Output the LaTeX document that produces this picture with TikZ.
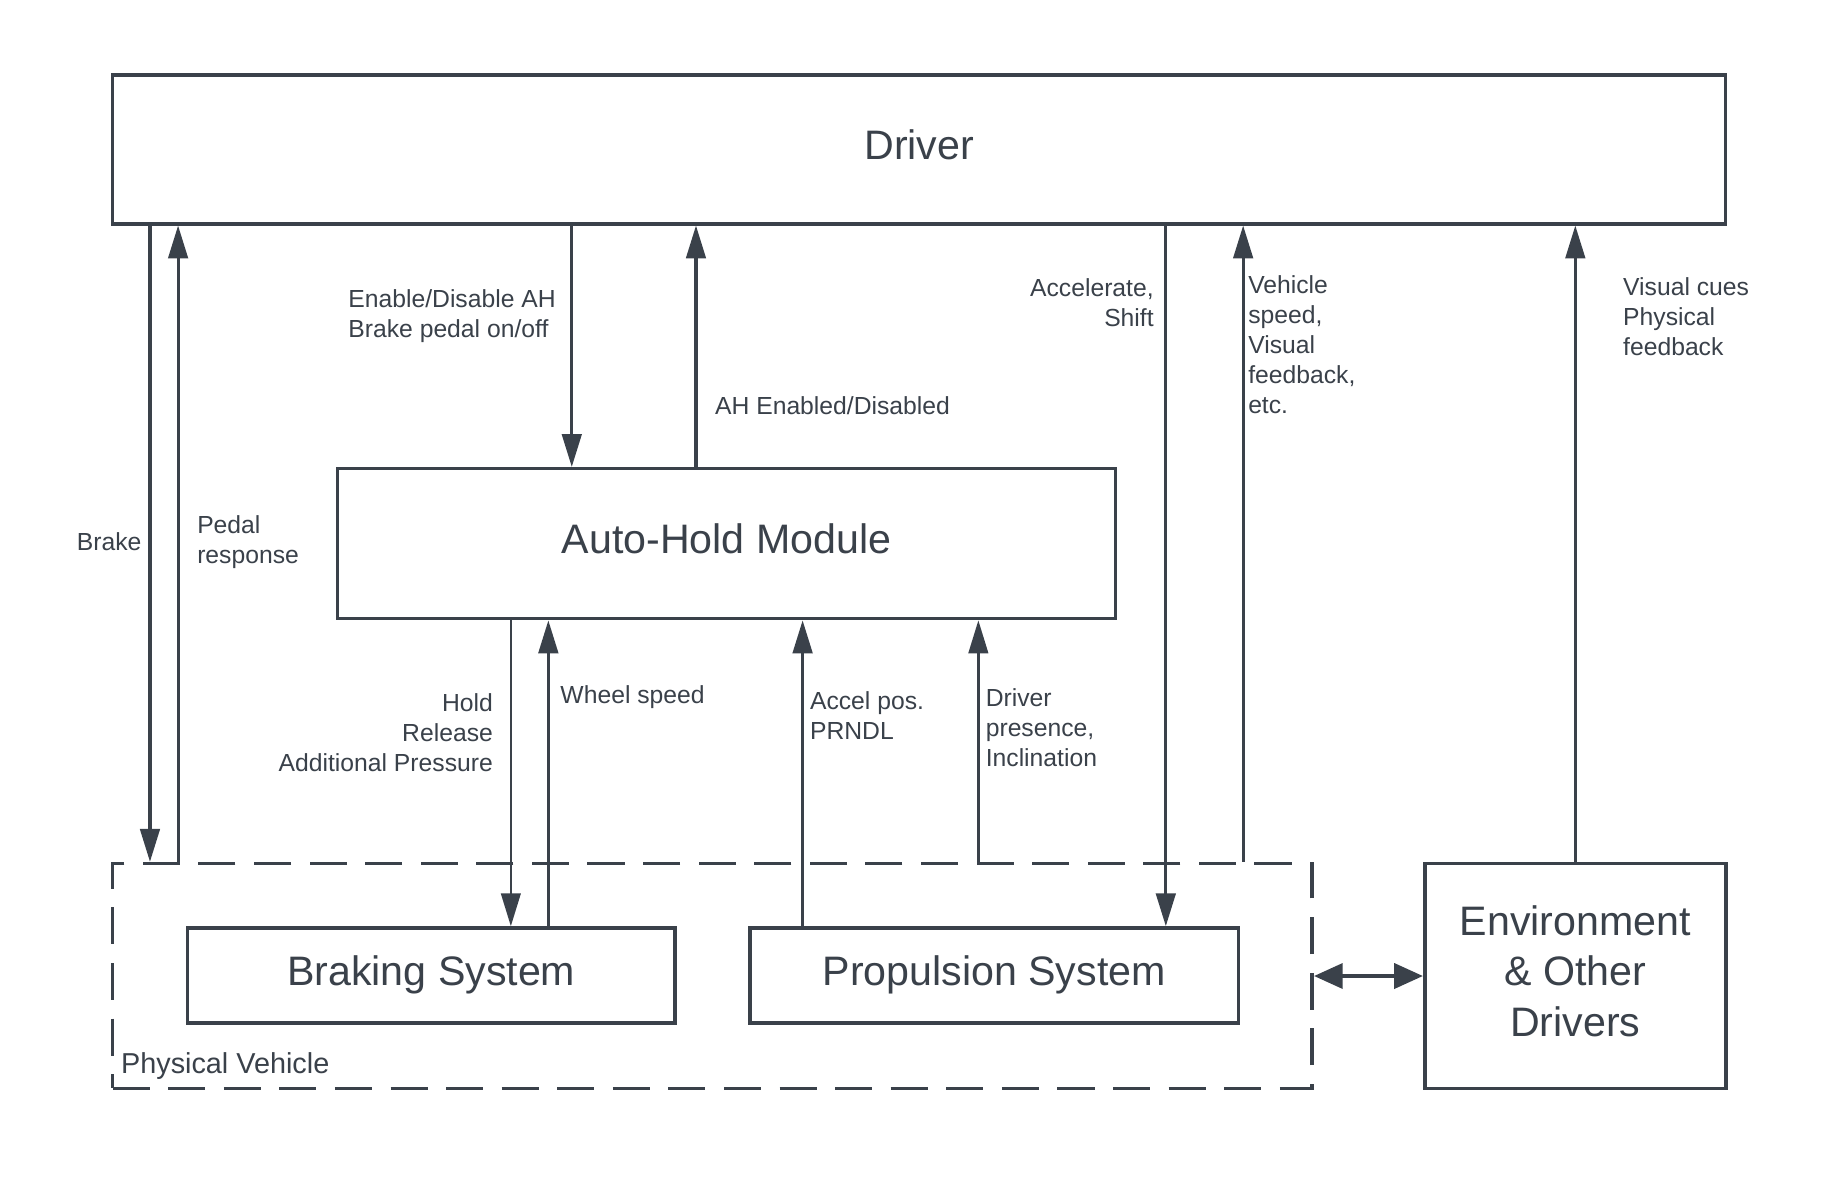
\documentclass[tikz,border=0pt]{standalone}
\usepackage{fontspec}
\setmainfont{Liberation Sans}
\usetikzlibrary{arrows.meta}
\definecolor{dk}{HTML}{3A414A}
\begin{document}
\begin{tikzpicture}[x=0.02cm,y=-0.02cm,
  box/.style={draw=dk, line width=1.7pt, inner sep=0pt, align=center, text=dk,
    text depth=5pt, font=\fontsize{20}{24.4}\selectfont},
  lbl/.style={inner sep=0pt, text=dk, font=\fontsize{12}{14.6}\selectfont},
  arr/.style={draw=dk, line width=1.5pt, -{Triangle[length=16pt,width=9.5pt]}},
  thinarr/.style={arr, line width=1.2pt},
  dbl/.style={draw=dk, line width=2.2pt, {Triangle[length=14pt,width=12pt]}-{Triangle[length=14pt,width=12pt]}}
]
\useasboundingbox[fill=white] (0,0) rectangle (1567,1024);

% boxes
\node[box, minimum width=27.54cm, minimum height=2.54cm] (driver) at (784.5,127.5) {Driver};
\node[box, minimum width=13.28cm, minimum height=2.56cm] (ahm) at (620,464) {Auto-Hold Module};
\node[box, draw=dk, dash pattern=on 18pt off 9pt, minimum width=20.48cm, minimum height=3.84cm] (pv) at (608,833) {};
\node[box, minimum width=8.32cm, minimum height=1.62cm] (brk) at (368,832.5) {Braking System};
\node[box, minimum width=8.34cm, minimum height=1.62cm] (prop) at (848.5,832.5) {Propulsion System};
\node[box, minimum width=5.14cm, minimum height=3.84cm] (env) at (1344.5,833) {Environment\\\& Other\\Drivers};
\node[lbl, anchor=west, font=\fontsize{14}{16}\selectfont] (pvl) at (103,910) {Physical Vehicle};

% driver <-> vehicle
\draw[arr] (driver.south -| 128,0) -- (pv.north -| 128,0);
\draw[arr] (pv.north -| 152,0) -- (driver.south -| 152,0);
% driver <-> auto-hold
\draw[arr] (driver.south -| 488,0) -- (ahm.north -| 488,0);
\draw[arr] (ahm.north -| 594,0) -- (driver.south -| 594,0);
% driver <-> propulsion / vehicle
\draw[arr] (driver.south -| 995,0) -- (prop.north -| 995,0);
\draw[arr] (pv.north -| 1061,0) -- (driver.south -| 1061,0);
% environment -> driver
\draw[arr] (env.north) -- (driver.south -| env.north);
% auto-hold <-> braking
\draw[thinarr] (ahm.south -| 436,0) -- (brk.north -| 436,0);
\draw[arr] (brk.north -| 468,0) -- (ahm.south -| 468,0);
% propulsion / vehicle -> auto-hold
\draw[arr] (prop.north -| 685,0) -- (ahm.south -| 685,0);
\draw[thinarr] (pv.north -| 835,0) -- (ahm.south -| 835,0);
% vehicle <-> environment
\draw[dbl] (pv.east) -- (env.west);

% labels
\node[lbl, anchor=east] (l1) at (121,462) {Brake};
\node[lbl, anchor=west, align=left] (l2) at (168,463) {Pedal\\response};
\node[lbl, anchor=west, align=left] (l3) at (297,270) {Enable/Disable AH\\Brake pedal on/off};
\node[lbl, anchor=west] (l4) at (610,346) {AH Enabled/Disabled};
\node[lbl, anchor=east, align=right] (l5) at (985,258) {Accelerate,\\Shift};
\node[lbl, anchor=west, align=left] (l6) at (1065,294) {Vehicle\\speed,\\Visual\\feedback,\\etc.};
\node[lbl, anchor=west, align=left] (l7) at (1385,270) {Visual cues\\Physical\\feedback};
\node[lbl, anchor=east, align=right] (l8) at (421,625) {Hold\\Release\\Additional Pressure};
\node[lbl, anchor=west] (l9) at (478,595) {Wheel speed};
\node[lbl, anchor=west, align=left] (l10) at (691,611) {Accel pos.\\PRNDL};
\node[lbl, anchor=west, align=left] (l11) at (841,621) {Driver\\presence,\\Inclination};
\end{tikzpicture}
\end{document}
